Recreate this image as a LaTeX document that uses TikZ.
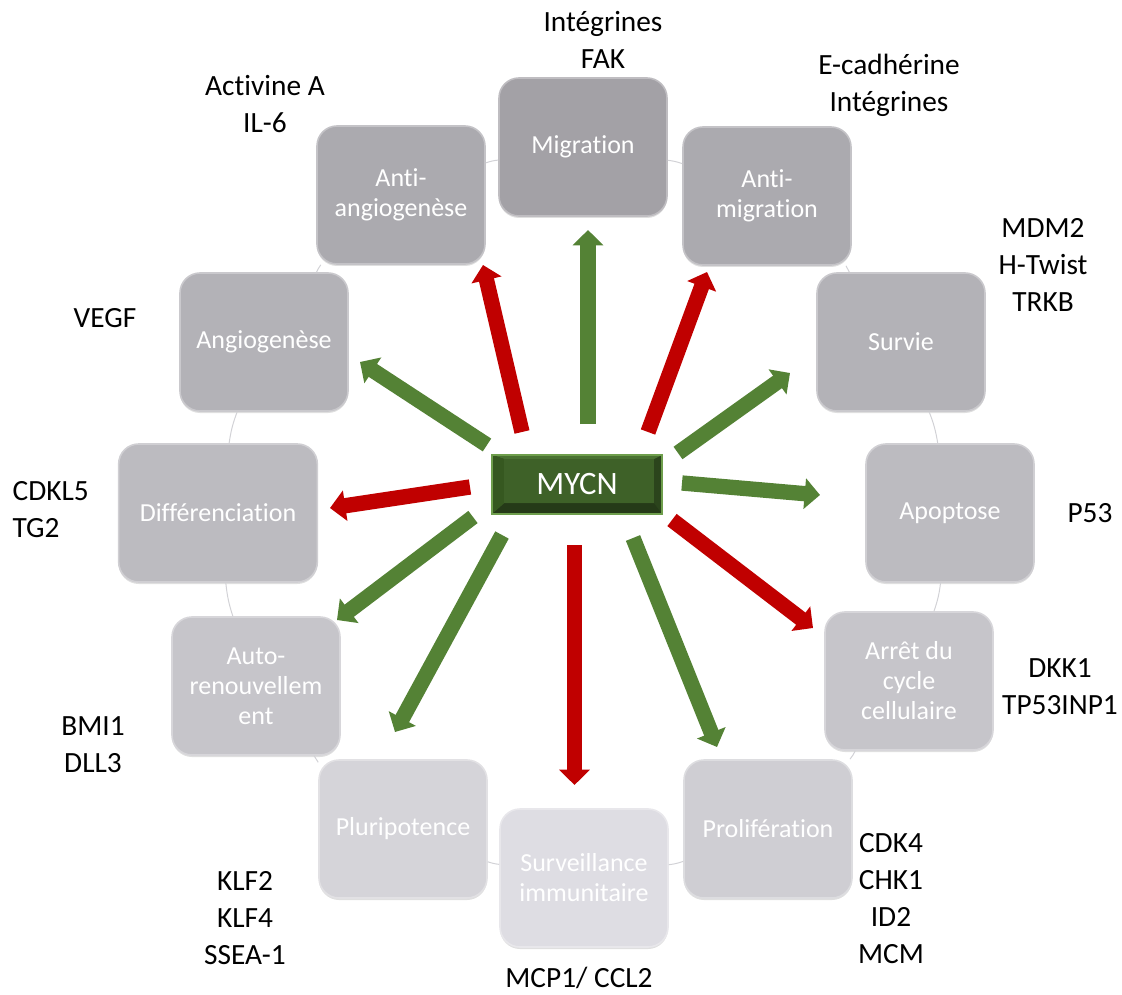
\documentclass[tikz,border=0pt]{standalone}
\usepackage{fontspec}
\setmainfont{Carlito}[Ligatures=NoCommon]
\usetikzlibrary{arrows.meta,shadows}

\definecolor{arrgreen}{HTML}{548235}
\definecolor{arrred}{HTML}{C00000}
\definecolor{ringgray}{HTML}{D2D2D6}
\definecolor{gA}{HTML}{A3A1A6}
\definecolor{gB}{HTML}{ABAAAF}
\definecolor{gC}{HTML}{B3B2B7}
\definecolor{gD}{HTML}{BCBBC0}
\definecolor{gE}{HTML}{C6C5CA}
\definecolor{gF}{HTML}{CFCED3}
\definecolor{gG}{HTML}{D5D4D9}
\definecolor{gH}{HTML}{DEDDE3}
\definecolor{mycnface}{HTML}{3E6128}
\definecolor{mycntop}{HTML}{4A7232}
\definecolor{mycnleft}{HTML}{365820}
\definecolor{mycnright}{HTML}{2B441C}
\definecolor{mycnbottom}{HTML}{253A18}
\definecolor{mycnrim}{HTML}{6E9E4C}

\begin{document}
\begin{tikzpicture}[x=0.75pt, y=-0.75pt]
	\tikzset{bx/.style={rectangle, rounded corners=15pt, minimum width=126pt, minimum height=103.5pt, align=center, text=white, font=\fontsize{19.5}{22.5}\selectfont, fill=#1, draw=#1!70!white, line width=1.2pt, drop shadow={opacity=0.25, shadow xshift=0pt, shadow yshift=-1.5pt}}};
	\tikzset{lbl/.style={align=center, font=\fontsize{22}{27.75}\selectfont}};
	\tikzset{ar/.style={line width=11.5pt, -{Triangle[width=22.5pt, length=11.5pt]}}};
	\tikzset{gar/.style={ar, arrgreen}, rar/.style={ar, arrred}};
	\tikzset{ringln/.style={draw=ringgray, line width=0.75pt}};
	\tikzset{mycnbx/.style={rectangle, minimum width=127.5pt, minimum height=44.25pt, inner sep=0pt, text=white, font=\fontsize{24.5}{28}\selectfont, fill=mycnright, draw=mycnrim, line width=0.8pt,
		path picture={
			\fill[mycnbottom] (path picture bounding box.south west) -- (path picture bounding box.south east) -- ([xshift=-6pt,yshift=8pt]path picture bounding box.south east) -- ([xshift=9pt,yshift=8pt]path picture bounding box.south west) -- cycle;
			\fill[mycntop] (path picture bounding box.north west) -- (path picture bounding box.north east) -- ([xshift=-6pt,yshift=-3pt]path picture bounding box.north east) -- ([xshift=9pt,yshift=-3pt]path picture bounding box.north west) -- cycle;
			\fill[mycnleft] (path picture bounding box.north west) -- ([xshift=9pt,yshift=-3pt]path picture bounding box.north west) -- ([xshift=9pt,yshift=8pt]path picture bounding box.south west) -- (path picture bounding box.south west) -- cycle;
			\fill[mycnface] ([xshift=9pt,yshift=-3pt]path picture bounding box.north west) rectangle ([xshift=-6pt,yshift=8pt]path picture bounding box.south east);
		}}};

	\useasboundingbox (0,0) rectangle (1122,995);

	% the twelve effects, clockwise from the top
	\node[bx=gA] (mig) at (583, 147) {Migration};
	\node[bx=gB] (amig) at (767, 196) {Anti-\\migration};
	\node[bx=gC] (surv) at (901, 342) {Survie};
	\node[bx=gD] (apop) at (950, 513) {Apoptose};
	\node[bx=gE] (arret) at (909, 681) {Arrêt du\\cycle\\cellulaire};
	\node[bx=gF] (prol) at (768, 829) {Prolifération};
	\node[bx=gH] (surveil) at (584, 878) {Surveillance\\immunitaire};
	\node[bx=gG] (pluri) at (403, 829) {Pluripotence};
	\node[bx=gE] (auto) at (256, 686) {Auto-\\renouvellem\\ent};
	\node[bx=gD, minimum width=149pt] (diff) at (218, 513) {Différenciation};
	\node[bx=gC] (angio) at (264, 342) {Angiogenèse};
	\node[bx=gB] (aangio) at (401, 195) {Anti-\\angiogenèse};

	\draw[ringln] (mig) to[bend left=6] (amig);
	\draw[ringln] (amig) to[bend left=6] (surv);
	\draw[ringln] (surv) to[bend left=6] (apop);
	\draw[ringln] (apop) to[bend left=6] (arret);
	\draw[ringln] (arret) to[bend left=6] (prol);
	\draw[ringln] (prol) to[bend left=6] (surveil);
	\draw[ringln] (surveil) to[bend left=6] (pluri);
	\draw[ringln] (pluri) to[bend left=6] (auto);
	\draw[ringln] (auto) to[bend left=6] (diff);
	\draw[ringln] (diff) to[bend left=6] (angio);
	\draw[ringln] (angio) to[bend left=6] (aangio);
	\draw[ringln] (aangio) to[bend left=6] (mig);

	\node[mycnbx] (mycn) at (577, 484.5) {MYCN};

	% arrow ends
	\coordinate (s1) at (588, 424);   \coordinate (e1) at (588, 230);
	\coordinate (s2) at (522, 432);   \coordinate (e2) at (483, 265);
	\coordinate (s3) at (648, 432);   \coordinate (e3) at (707, 272);
	\coordinate (s4) at (487, 445);   \coordinate (e4) at (360, 362);
	\coordinate (s5) at (678, 453);   \coordinate (e5) at (790, 373);
	\coordinate (s6) at (470, 487);   \coordinate (e6) at (330, 508);
	\coordinate (s7) at (682, 483);   \coordinate (e7) at (820, 495);
	\coordinate (s8) at (672, 520);   \coordinate (e8) at (813, 628);
	\coordinate (s9) at (473, 517);   \coordinate (e9) at (337, 620);
	\coordinate (s10) at (633, 538);  \coordinate (e10) at (717, 747);
	\coordinate (s11) at (574.5, 545); \coordinate (e11) at (574.5, 785);
	\coordinate (s12) at (502, 535);  \coordinate (e12) at (395, 732);

	\draw[gar] (s1) -- (e1);
	\draw[rar] (s2) -- (e2);
	\draw[rar] (s3) -- (e3);
	\draw[gar] (s4) -- (e4);
	\draw[gar] (s5) -- (e5);
	\draw[rar] (s6) -- (e6);
	\draw[gar] (s7) -- (e7);
	\draw[rar] (s8) -- (e8);
	\draw[gar] (s9) -- (e9);
	\draw[gar] (s10) -- (e10);
	\draw[rar] (s11) -- (e11);
	\draw[gar] (s12) -- (e12);

	% gene labels
	\node[lbl] (lmig) at (603, 40) {Intégrines\\FAK};
	\node[lbl] (lamig) at (889, 85) {E-cadhérine\\Intégrines};
	\node[lbl] (lsurv) at (1043, 265) {MDM2\\H-Twist\\TRKB};
	\node[lbl] (lapop) at (1090, 513) {P53};
	\node[lbl] (larret) at (1060, 687) {DKK1\\TP53INP1};
	\node[lbl] (lprol) at (891, 899) {CDK4\\CHK1\\ID2\\MCM};
	\node[lbl] (lsurveil) at (579, 978) {MCP1/ CCL2};
	\node[lbl] (lpluri) at (245, 918) {KLF2\\KLF4\\SSEA-1};
	\node[lbl] (lauto) at (93, 745) {BMI1\\DLL3};
	\node[lbl, anchor=west, align=left] (ldiff) at (8, 510) {CDKL5\\TG2};
	\node[lbl] (langio) at (105, 318) {VEGF};
	\node[lbl] (laangio) at (265, 104) {Activine A\\IL-6};
\end{tikzpicture}
\end{document}
